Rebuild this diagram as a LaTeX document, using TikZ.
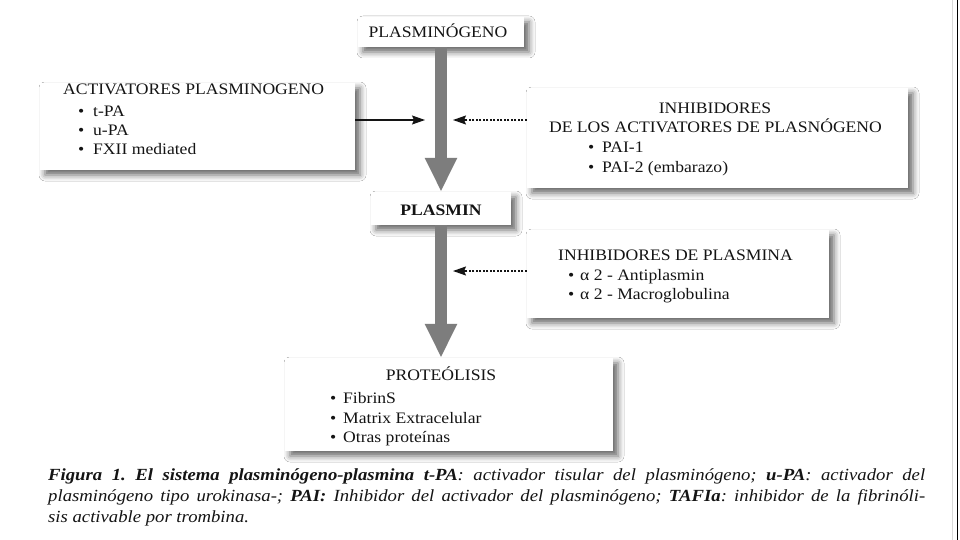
\documentclass[tikz,border=0pt]{standalone}
\usepackage{fontspec}
\setmainfont{Liberation Serif}[FakeStretch=1.1]
\newfontfamily\capfont{Liberation Serif}[FakeStretch=1.1]
\usetikzlibrary{arrows.meta,shadows.blur}
\definecolor{flowgray}{RGB}{125,125,125}
\definecolor{ink}{RGB}{20,20,20}
\frenchspacing
\begin{document}
\begin{tikzpicture}[x=1pt,y=-1pt,
  box/.style={rectangle, fill=white, inner sep=0pt,
    blur shadow={shadow xshift=5pt, shadow yshift=-5pt, shadow blur radius=6pt, shadow opacity=60}},
  txt/.style={inner sep=0pt, anchor=base west, text=ink, font=\fontsize{16}{19}\selectfont},
  ttl/.style={txt, anchor=base},
  flow/.style={draw=flowgray, line width=12pt, -{Triangle[length=34pt,width=30pt]}},
  act/.style={draw=ink, line width=1.3pt, -{Stealth[length=13pt,width=9pt,inset=2pt]}},
  inhib/.style={act, dash pattern=on 2pt off 1.5pt},
  capline/.style={inner sep=0pt, anchor=base west, text=ink, font=\capfont\itshape\fontsize{17}{20}\selectfont}]
\fill[white] (0,0) rectangle (960,540);
\useasboundingbox (0,0) rectangle (960,540);
\draw[line width=1pt, black] (957,0) -- (957,540);
\draw[line width=0.6pt, black!15] (952,0) -- (952,540);

% boxes
\node[box, minimum width=166pt, minimum height=30pt] (plg) at (441,32) {};
\node[box, minimum width=315pt, minimum height=87pt] (actb) at (197.5,126.5) {};
\node[box, minimum width=381pt, minimum height=100pt] (inh) at (717.5,138) {};
\node[box, minimum width=140pt, minimum height=33pt] (pln) at (441,208.5) {};
\node[box, minimum width=302pt, minimum height=88pt] (pinh) at (678,274) {};
\node[box, minimum width=328pt, minimum height=93pt] (pro) at (449,404.5) {};

% texts
\node[ttl] (t-plg) at (438,38) {PLASMINÓGENO};

\node[txt] (t-act) at (63,95) {ACTIVATORES PLASMINOGENO};
\node[txt] (t-act1) at (78,117) {\makebox[15pt][l]{\textbullet}t-PA};
\node[txt] (t-act2) at (78,136) {\makebox[15pt][l]{\textbullet}u-PA};
\node[txt] (t-act3) at (78,155) {\makebox[15pt][l]{\textbullet}FXII mediated};

\node[ttl] (t-inh1) at (715,114) {INHIBIDORES};
\node[ttl] (t-inh2) at (715.5,133) {DE LOS ACTIVATORES DE PLASNÓGENO};
\node[txt] (t-inh3) at (588,153) {\makebox[14pt][l]{\textbullet}PAI-1};
\node[txt] (t-inh4) at (588,172) {\makebox[14pt][l]{\textbullet}PAI-2 (embarazo)};

\node[ttl] (t-pln) at (441,215) {\bfseries PLASMIN};

\node[txt] (t-pi) at (558,260) {INHIBIDORES DE PLASMINA};
\node[txt] (t-pi1) at (568,280) {\makebox[12pt][l]{\textbullet}α 2 - Antiplasmin};
\node[txt] (t-pi2) at (568,299) {\makebox[12pt][l]{\textbullet}α 2 - Macroglobulina};

\node[ttl] (t-pro) at (441,380) {PROTEÓLISIS};
\node[txt] (t-pro1) at (330,403) {\makebox[13pt][l]{\textbullet}FibrinS};
\node[txt] (t-pro2) at (330,423) {\makebox[13pt][l]{\textbullet}Matrix Extracelular};
\node[txt] (t-pro3) at (330,442) {\makebox[13pt][l]{\textbullet}Otras proteínas};

% main flow arrows
\draw[flow] (plg.south) -- (pln.north);
\draw[flow] (pln.south) -- (pro.north -| pln.south);

% side arrows
\coordinate (a1) at (425,120);
\coordinate (a2) at (453,120);
\coordinate (a3) at (453,271);
\draw[act] (actb.east |- a1) -- (a1);
\draw[inhib] (inh.west |- a2) -- (a2);
\draw[inhib] (pinh.west |- a3) -- (a3);

% caption
\node[capline] (c1) at (48,480) {\makebox[877pt][s]{\textbf{Figura 1. El sistema plasminógeno-plasmina t-PA}: activador tisular del plasminógeno; \textbf{u-PA}: activador del}};
\node[capline] (c2) at (48,501) {\makebox[877pt][s]{plasminógeno tipo urokinasa-; \textbf{PAI:} Inhibidor del activador del plasminógeno; \textbf{TAFIa}: inhibidor de la fibrinóli-}};
\node[capline] (c3) at (48,522) {sis activable por trombina.};
\end{tikzpicture}
\end{document}
